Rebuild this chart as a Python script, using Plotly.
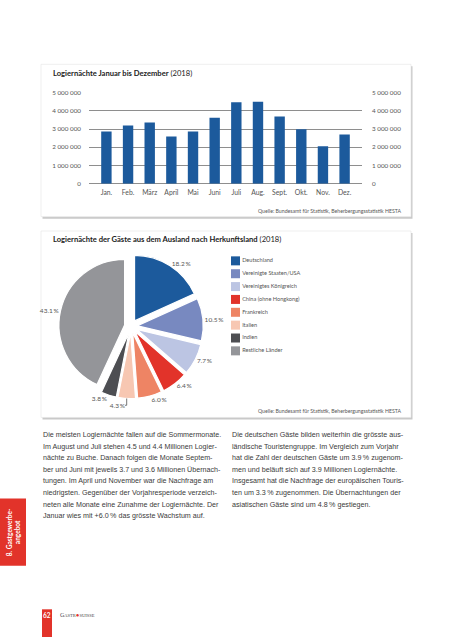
import plotly.graph_objects as go

# ---------------- data ----------------
months = ["Jan.", "Feb.", "März", "April", "Mai", "Juni", "Juli", "Aug.", "Sept.", "Okt.", "Nov.", "Dez."]
nights = [2860000, 3190000, 3350000, 2590000, 2860000, 3620000, 4460000, 4490000, 3680000, 2990000, 2050000, 2700000]
y_tickvals = [0, 1000000, 2000000, 3000000, 4000000, 5000000]
y_ticktext = ["0", "1 000 000", "2 000 000", "3 000 000", "4 000 000", "5 000 000"]

countries = ["Deutschland", "Vereinigte Staaten/USA", "Vereinigtes Königreich", "China (ohne Hongkong)",
             "Frankreich", "Italien", "Indien", "Restliche Länder"]
shares = [18.2, 10.5, 7.7, 6.4, 6.0, 4.3, 3.8, 43.1]
pie_colors = ["#1c5a9c", "#7889c0", "#bcc5e3", "#e2332a", "#ee8464", "#f7c7b2", "#4d4e52", "#949599"]

title1 = "<b>Logiernächte Januar bis Dezember</b> (2018)"
title2 = "<b>Logiernächte der Gäste aus dem Ausland nach Herkunftsland</b> (2018)"
source = "Quelle: Bundesamt für Statistik, Beherbergungsstatistik HESTA"

left_col = [
    "Die meisten Logiernächte fallen auf die Sommermonate.",
    "Im August und Juli stehen 4.5 und 4.4 Millionen Logier-",
    "nächte zu Buche. Danach folgen die Monate Septem-",
    "ber und Juni mit jeweils 3.7 und 3.6 Millionen Übernach-",
    "tungen. Im April und November war die Nachfrage am",
    "niedrigsten. Gegenüber der Vorjahresperiode verzeich-",
    "neten alle Monate eine Zunahme der Logiernächte. Der",
    "Januar wies mit +6.0\u2009% das grösste Wachstum auf.",
]
right_col = [
    "Die deutschen Gäste bilden weiterhin die grösste aus-",
    "ländische Touristengruppe. Im Vergleich zum Vorjahr",
    "hat die Zahl der deutschen Gäste um 3.9\u2009% zugenom-",
    "men und beläuft sich auf 3.9 Millionen Logiernächte.",
    "Insgesamt hat die Nachfrage der europäischen Touris-",
    "ten um 3.3\u2009% zugenommen. Die Übernachtungen der",
    "asiatischen Gäste sind um 4.8\u2009% gestiegen.",
]

# ---------------- layout helpers ----------------
W, H = 453, 640
def X(px):
    return px / W
def Y(py):
    return 1 - py / H

CHART_FONT = "Lato, 'Open Sans', sans-serif"
BODY_FONT = "'Liberation Sans', Arial, sans-serif"
GRID = "#8e8e8e"
LABEL = "#555555"

fig = go.Figure()

# bar chart
fig.add_trace(go.Bar(x=months, y=nights, marker=dict(color="#1c5a9c", line=dict(width=0)),
                     xaxis="x", yaxis="y", showlegend=False, hoverinfo="x+y"))
# invisible trace for right axis
fig.add_trace(go.Scatter(x=months, y=nights, xaxis="x", yaxis="y2", mode="markers",
                         marker=dict(opacity=0), showlegend=False, hoverinfo="skip"))

# pie chart
fig.add_trace(go.Pie(
    labels=countries, values=shares, sort=False, direction="clockwise", rotation=0,
    marker=dict(colors=pie_colors, line=dict(color="white", width=1.2)),
    pull=[0.1] * len(shares),
    textposition="outside", texttemplate="%{value:.1f}\u2009%",
    textfont=dict(family=CHART_FONT, size=6.5, color=LABEL),
    domain=dict(x=[X(58), X(204)], y=[Y(399), Y(253)]),
    showlegend=False, hoverinfo="label+value",
))

# custom legend via scatter
fig.add_trace(go.Scatter(
    x=[0] * len(countries), y=list(range(len(countries))), xaxis="x3", yaxis="y3",
    mode="markers+text", marker=dict(symbol="square", size=9, color=pie_colors, line=dict(width=0)),
    text=countries, textposition="middle right",
    textfont=dict(family=CHART_FONT, size=5.6, color="#555555"),
    cliponaxis=False, showlegend=False, hoverinfo="text",
))

shapes = []
def box(x0, y0, x1, y1):
    shapes.append(dict(type="rect", xref="paper", yref="paper", x0=X(x0 + 1.5), x1=X(x1 + 1.5),
                       y0=Y(y1 + 2), y1=Y(y0 + 2), fillcolor="#c9c9c9", line=dict(width=0), layer="below"))
    shapes.append(dict(type="rect", xref="paper", yref="paper", x0=X(x0), x1=X(x1),
                       y0=Y(y1), y1=Y(y0), fillcolor="white", line=dict(color="#e4e4e4", width=0.6), layer="below"))
box(41, 61, 411, 215)
box(41, 229.5, 411, 418)
# side tab
shapes.append(dict(type="rect", xref="paper", yref="paper", x0=0, x1=X(26), y0=Y(568), y1=Y(500),
                   fillcolor="#e2332a", line=dict(width=0)))
# page number tab
shapes.append(dict(type="rect", xref="paper", yref="paper", x0=X(42), x1=X(52), y0=0, y1=Y(612),
                   fillcolor="#e2332a", line=dict(width=0)))

annotations = []
def ann(text, x, y, xanchor="left", yanchor="middle", size=7, color="#333", family=CHART_FONT, **kw):
    annotations.append(dict(text=text, x=X(x), y=Y(y), xref="paper", yref="paper", showarrow=False,
                            xanchor=xanchor, yanchor=yanchor, align=xanchor if xanchor != "center" else "center",
                            font=dict(size=size, color=color, family=family), **kw))

ann(title1, 51, 70, size=7.6, color="#222")
ann(title2, 51, 238, size=7.6, color="#222")
ann(source, 403, 209, xanchor="right", size=5.2, color="#555")
ann(source, 403, 411, xanchor="right", size=5.2, color="#555")

for i, line in enumerate(left_col):
    ann(line, 41, 435.7 + i * 11.75, size=7.15, color="#3a3a3a", family=BODY_FONT)
for i, line in enumerate(right_col):
    ann(line, 230, 435.7 + i * 11.75, size=7.15, color="#3a3a3a", family=BODY_FONT)

ann("<b>8. Gastgewerbe-<br>angebot</b>", 13, 534, xanchor="center", size=6.5, color="white",
    family=CHART_FONT, textangle=-90)
ann("<b>62</b>", 47, 618, xanchor="center", size=6.5, color="white", family=CHART_FONT)
ann("G<span style='font-size:4.5px'>ASTR</span><span style='color:#e2332a'>●</span>"
    "<span style='font-size:4.5px'>SUISSE</span>", 58, 618, size=6, color="#444",
    family="'Liberation Serif', serif")

fig.update_layout(
    width=W, height=H, margin=dict(l=0, r=0, t=0, b=0, pad=0),
    paper_bgcolor="white", plot_bgcolor="rgba(0,0,0,0)",
    shapes=shapes, annotations=annotations, bargap=0.52,
    xaxis=dict(domain=[X(89), X(362)], anchor="y", showgrid=False, showline=False, zeroline=False,
               ticks="", ticklabelstandoff=3, tickfont=dict(family=CHART_FONT, size=6.8, color=LABEL),
               fixedrange=True),
    yaxis=dict(domain=[Y(181.7), Y(89.5)], anchor="x", range=[0, 5000000], tickvals=y_tickvals,
               ticktext=y_ticktext, showgrid=True, gridcolor=GRID, gridwidth=1.3, zeroline=True,
               zerolinecolor=GRID, zerolinewidth=1.3,
               showline=False, ticks="", ticklabelstandoff=7,
               tickfont=dict(family=CHART_FONT, size=6.3, color=LABEL), fixedrange=True),
    yaxis2=dict(overlaying="y", side="right", anchor="x", range=[0, 5000000], tickvals=y_tickvals,
                ticktext=y_ticktext, showgrid=False, zeroline=False, showline=False, ticks="",
                ticklabelstandoff=9, tickfont=dict(family=CHART_FONT, size=6.3, color=LABEL),
                fixedrange=True),
    xaxis3=dict(domain=[X(235.5), X(400)], anchor="y3", range=[0, 1], visible=False, fixedrange=True),
    yaxis3=dict(domain=[Y(357.2), Y(253.2)], anchor="x3", range=[7.5, -0.5], visible=False, fixedrange=True),
)

fig.write_html("out.html", config={"displayModeBar": False},
               post_script="document.body.style.margin='0';document.body.style.overflow='hidden';")
